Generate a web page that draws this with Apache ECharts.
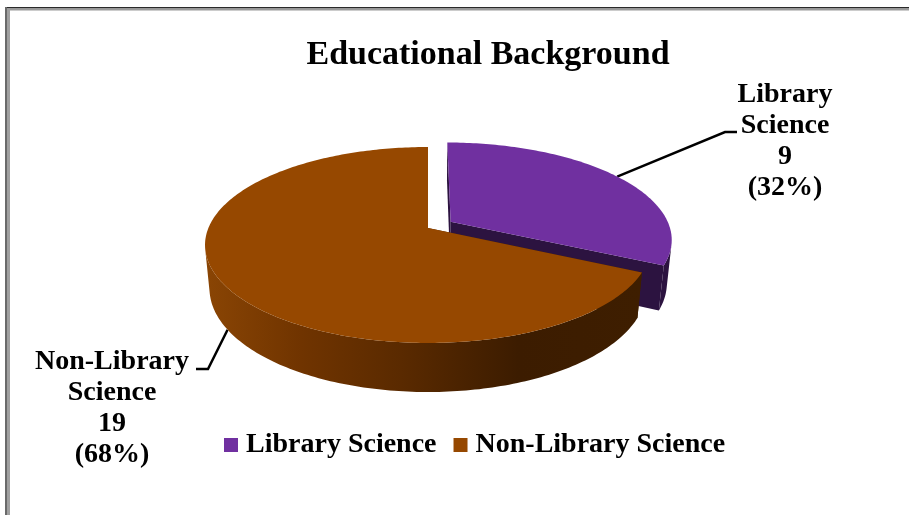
<!DOCTYPE html>
<html>
<head>
<meta charset="utf-8">
<style>
  html, body { margin: 0; padding: 0; background: #fff; }
  #chart { width: 909px; height: 515px; }
</style>
<script src="https://cdn.jsdelivr.net/npm/echarts@6/dist/echarts.min.js"></script>
</head>
<body>
<div id="chart"></div>
<script>
// Chart content
const chartTitle = 'Educational Background';
const categories = ['Library Science', 'Non-Library Science'];
const counts = [9, 19];

// Styling per slice
const topColors = ['#7030A0', '#964800'];
const wallFills = [
  '#2C1340',
  [[0, '#8A4504'], [0.22, '#703400'], [0.45, '#5A2A00'], [0.72, '#3C1C00'], [1, '#3E1E00']]
];
const explodeBy = [0.123, 0];

// Callout placement: text centre, elbow and end of the leader line
const callouts = [
  { textX: 785, textY: 141, elbow: [725, 132], end: [737, 132], fromBase: false },
  { textX: 112, textY: 408, elbow: [208, 369], end: [196, 369], fromBase: true }
];

// Perspective model of the tilted disc: unit circle (u, v) at depth z (0 top, 1 base)
const view = { cx: 428, cy: 228, a: 219.6, b: 95.05, c: 43.8, p: 0.1735, q: 0.02 };
const project = (u, v, z) => {
  const s = 1 / (1 - view.p * v + view.q * z);
  return [view.cx + view.a * u * s, view.cy + (view.b * v + view.c * z) * s];
};

const total = counts.reduce((sum, n) => sum + n, 0);
const TAU = Math.PI * 2;

function sliceGeometry(index) {
  const before = counts.slice(0, index).reduce((sum, n) => sum + n, 0);
  const start = before / total * TAU;
  const end = (before + counts[index]) / total * TAU;
  const mid = (start + end) / 2;
  const ox = Math.sin(mid) * explodeBy[index];
  const oy = -Math.cos(mid) * explodeBy[index];
  const rim = (angle, z) => project(Math.sin(angle) + ox, -Math.cos(angle) + oy, z);
  const apex = z => project(ox, oy, z);
  const steps = Math.max(32, Math.ceil((end - start) / TAU * 360));
  const arc = z => {
    const pts = [];
    for (let i = 0; i <= steps; i++) pts.push(rim(start + (end - start) * i / steps, z));
    return pts;
  };
  return { start, end, mid, rim, apex, arc };
}

// Outer wall limited to the stretch of rim that faces the viewer, so the silhouette
// runs straight from the top rim to the base rim at the widest points.
function frontWall(top, base) {
  const facing = [];
  for (let i = 0; i < top.length - 1; i++) {
    const dx1 = top[i + 1][0] - top[i][0];
    const dy1 = top[i + 1][1] - top[i][1];
    const dx2 = base[i][0] - top[i][0];
    const dy2 = base[i][1] - top[i][1];
    if (dx1 * dy2 - dy1 * dx2 < 0) facing.push(i);
  }
  if (!facing.length) return [];
  const first = facing[0];
  const last = facing[facing.length - 1] + 1;
  return top.slice(first, last + 1).concat(base.slice(first, last + 1).reverse());
}

function renderSlice(index, api) {
  const g = sliceGeometry(index);
  const top = g.arc(0);
  const base = g.arc(1);
  const stops = wallFills[index];
  const wallFill = typeof stops === 'string'
    ? stops
    : new echarts.graphic.LinearGradient(205, 0, 640, 0,
        stops.map(s => ({ offset: s[0], color: s[1] })), true);

  const poly = (points, fill) => ({
    type: 'polygon',
    shape: { points },
    style: { fill },
    silent: true
  });

  const value = api.value(0);
  const note = callouts[index];
  const leaderStart = g.rim(g.mid, note.fromBase ? 1 : 0);
  const percent = Math.round(value / total * 100);

  return {
    type: 'group',
    children: [
      {
        type: 'polyline',
        shape: { points: [leaderStart, note.elbow, note.end] },
        style: { stroke: '#000', lineWidth: 2.5, fill: 'none' },
        silent: true
      },
      // cut faces, then the outer wall, then the top surface
      poly([g.apex(0), g.apex(1), base[0], top[0]], wallFill),
      poly([g.apex(0), g.apex(1), base[base.length - 1], top[top.length - 1]], wallFill),
      poly(frontWall(top, base), wallFill),
      poly([g.apex(0)].concat(top), topColors[index]),
      {
        type: 'text',
        silent: true,
        style: {
          x: note.textX,
          y: note.textY,
          text: categories[index].replace(' ', '\n') + '\n' + value + '\n(' + percent + '%)',
          align: 'center',
          verticalAlign: 'middle',
          lineHeight: 31,
          fill: '#000',
          font: 'bold 28px "Liberation Serif", serif'
        }
      }
    ]
  };
}

const chart = echarts.init(document.getElementById('chart'), null, { renderer: 'canvas' });

chart.setOption({
  animation: false,
  backgroundColor: '#fff',
  title: {
    text: chartTitle,
    left: 483,
    top: 33,
    textAlign: 'center',
    textStyle: {
      fontFamily: '"Liberation Serif", serif',
      fontWeight: 'bold',
      fontSize: 34,
      color: '#000'
    }
  },
  legend: {
    left: 224,
    top: 431,
    padding: 0,
    icon: 'rect',
    itemWidth: 14,
    itemHeight: 14,
    itemGap: 17,
    selectedMode: false,
    data: categories,
    textStyle: {
      fontFamily: '"Liberation Serif", serif',
      fontWeight: 'bold',
      fontSize: 28,
      color: '#000',
      padding: [0, 0, 0, 3]
    }
  },
  graphic: [
    // window frame along the top and left edges
    { type: 'rect', shape: { x: 5, y: 7, width: 904, height: 1.5 }, style: { fill: '#2a2a2a' }, silent: true },
    { type: 'rect', shape: { x: 5, y: 8.5, width: 904, height: 2 }, style: { fill: '#9a9a9a' }, silent: true },
    { type: 'rect', shape: { x: 5, y: 7, width: 2, height: 508 }, style: { fill: '#6a6a6a' }, silent: true },
    { type: 'rect', shape: { x: 7, y: 8.5, width: 3, height: 507 }, style: { fill: '#a0a0a0' }, silent: true }
  ],
  series: categories.map((name, index) => ({
    type: 'custom',
    name,
    coordinateSystem: 'none',
    clip: false,
    itemStyle: { color: topColors[index] },
    data: [counts[index]],
    renderItem: (params, api) => renderSlice(index, api)
  }))
});
</script>
</body>
</html>
